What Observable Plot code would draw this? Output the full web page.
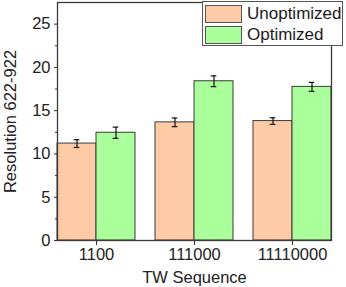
<!DOCTYPE html>
<html>
<head>
<meta charset="utf-8">
<script src="https://cdn.jsdelivr.net/npm/d3@7"></script>
<script src="https://cdn.jsdelivr.net/npm/@observablehq/plot@0.6"></script>
<style>
  html, body { margin: 0; padding: 0; background: #fff; }
  #chart { position: relative; width: 346px; height: 287px; font-family: "Liberation Sans", Arial, sans-serif; }
  #legend { position: absolute; left: 202px; top: 1px; width: 141px; height: 45px; box-sizing: border-box;
            background: #fff; border: 1px solid #555; padding: 1px 0 0 2px; }
  #legend .row { display: flex; align-items: center; height: 21px; font-size: 17px; color: #1a1a1a; white-space: nowrap; }
  #legend .sw { width: 37px; height: 18px; box-sizing: border-box; border: 1px solid #555; margin-right: 5px; flex: none; }
</style>
</head>
<body>
<div id="chart"></div>
<script>
const categories = ["1100", "111000", "11110000"];
const series = ["Unoptimized", "Optimized"];
const unoptimized = [11.2, 13.65, 13.8];
const optimized = [12.45, 18.4, 17.75];
const unoptimizedErr = [0.45, 0.5, 0.38];
const optimizedErr = [0.65, 0.62, 0.52];
const colors = ["#FFCBA6", "#AAFF9A"];
const yTicks = [0, 5, 10, 15, 20, 25];
const yMinorTicks = [2.5, 7.5, 12.5, 17.5, 22.5];

const data = [];
categories.forEach((c, i) => {
  data.push({cat: c, series: series[0], value: unoptimized[i], err: unoptimizedErr[i]});
  data.push({cat: c, series: series[1], value: optimized[i], err: optimizedErr[i]});
});

const font = "'Liberation Sans', Arial, sans-serif";

const plot = Plot.plot({
  width: 346,
  height: 287,
  marginLeft: 47,
  marginRight: 4,
  marginTop: 2,
  marginBottom: 47,
  style: {fontFamily: font, fontSize: "16.5px", color: "#222", background: "transparent", overflow: "visible"},
  fx: {domain: categories, paddingInner: 0.2, paddingOuter: 0.1},
  x: {domain: series, padding: 0, axis: null},
  y: {domain: [0, 27.5], axis: null},
  color: {domain: series, range: colors},
  marks: [
    Plot.barY(data, {fx: "cat", x: "series", y: "value", fill: "series", stroke: "#3a3a3a", strokeWidth: 1}),
    Plot.ruleX(data, {fx: "cat", x: "series", y1: d => d.value - d.err, y2: d => d.value + d.err, stroke: "#111", strokeWidth: 1.2}),
    Plot.tickY(data, {fx: "cat", x: "series", y: d => d.value - d.err, stroke: "#111", strokeWidth: 1.2, insetLeft: 16.7, insetRight: 16.7}),
    Plot.tickY(data, {fx: "cat", x: "series", y: d => d.value + d.err, stroke: "#111", strokeWidth: 1.2, insetLeft: 16.7, insetRight: 16.7}),
    Plot.axisY({ticks: yMinorTicks, tickSize: 2, tickFormat: () => "", stroke: "#333", label: null}),
    Plot.axisY({ticks: yTicks, tickSize: 3, tickPadding: 4, stroke: "#333", fontSize: 16.5, fill: "#222",
      label: "Resolution 622-922", labelAnchor: "center", labelArrow: "none", labelOffset: 53}),
    Plot.axisFx({anchor: "bottom", tickSize: 5, tickPadding: 3, stroke: "#333", fontSize: 16.5, fill: "#222",
      label: "TW Sequence", labelAnchor: "center", labelOffset: 42}),
    Plot.frame({facet: "super", stroke: "#3a3a3a", strokeWidth: 1.3})
  ]
});

const chart = document.getElementById("chart");
chart.appendChild(plot);

// Legend drawn from the plot's own color scale
const colorScale = plot.scale("color");
const legendBox = document.createElement("div");
legendBox.id = "legend";
series.forEach(s => {
  const row = document.createElement("div");
  row.className = "row";
  const sw = document.createElement("div");
  sw.className = "sw";
  sw.style.background = colorScale.apply(s);
  const label = document.createElement("span");
  label.textContent = s;
  row.appendChild(sw);
  row.appendChild(label);
  legendBox.appendChild(row);
});
chart.appendChild(legendBox);
</script>
</body>
</html>
